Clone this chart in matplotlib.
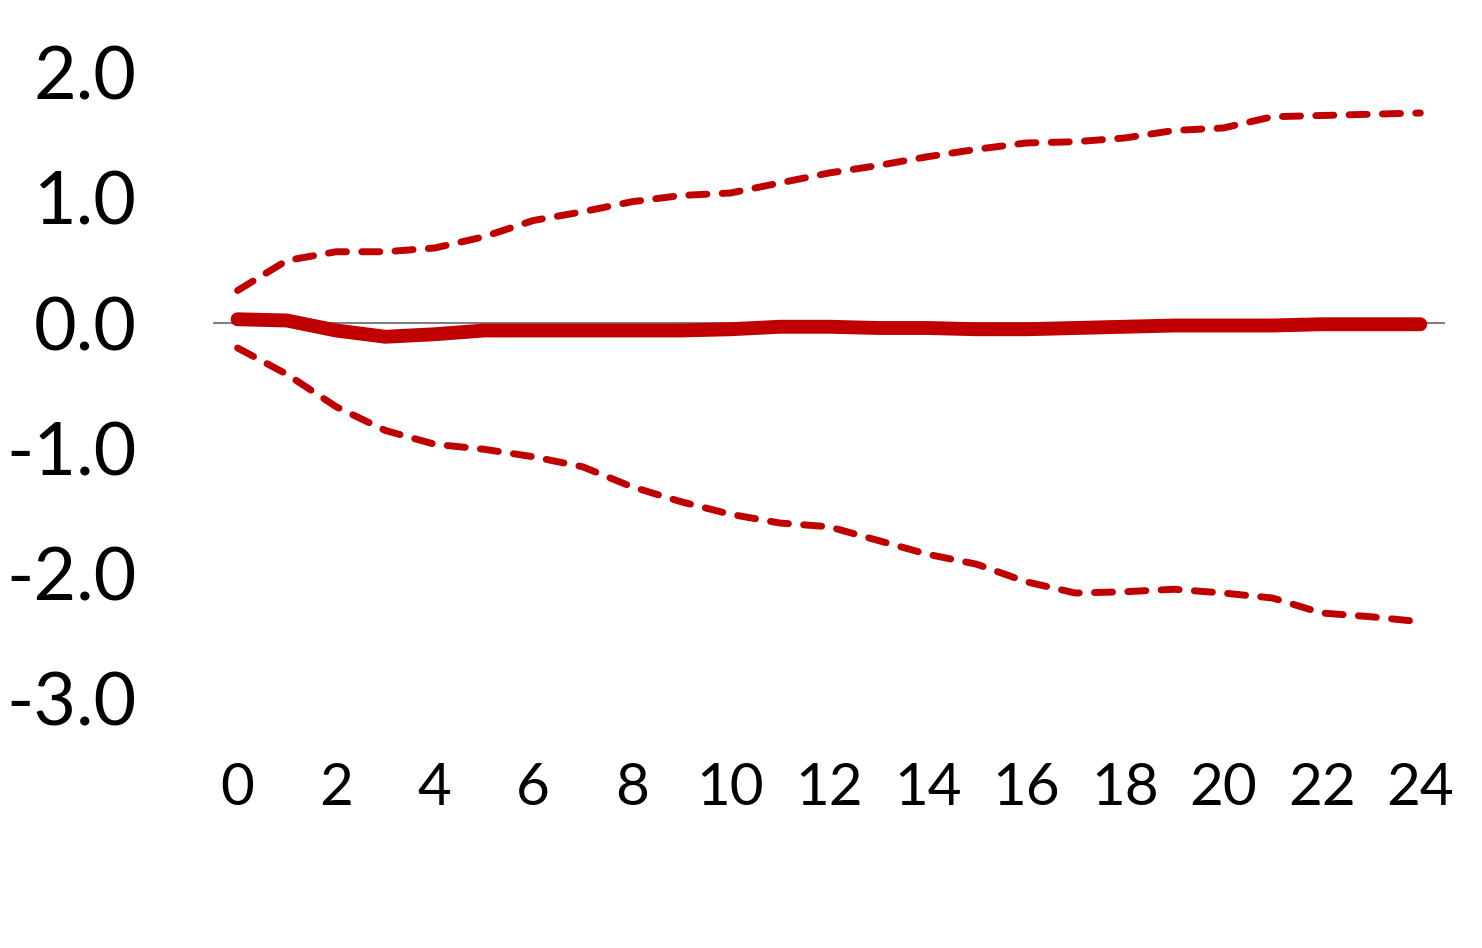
import matplotlib
matplotlib.use('Agg')
import matplotlib.pyplot as plt

plt.rcParams['font.family'] = ['Lato', 'DejaVu Sans']

# horizon (months) and impulse response with bands
horizon = list(range(25))
response = [0.03, 0.02, -0.06, -0.11, -0.09, -0.06, -0.06, -0.06, -0.06, -0.06,
            -0.05, -0.03, -0.03, -0.04, -0.04, -0.05, -0.05, -0.04, -0.03, -0.02,
            -0.02, -0.02, -0.01, -0.01, -0.01]
upper = [0.26, 0.50, 0.57, 0.57, 0.60, 0.69, 0.82, 0.89, 0.97, 1.02,
         1.04, 1.12, 1.20, 1.26, 1.33, 1.39, 1.44, 1.45, 1.48, 1.54,
         1.56, 1.65, 1.66, 1.67, 1.68]
lower = [-0.20, -0.41, -0.67, -0.86, -0.97, -1.01, -1.07, -1.15, -1.31, -1.43,
         -1.53, -1.60, -1.63, -1.74, -1.85, -1.93, -2.07, -2.16, -2.15, -2.13,
         -2.16, -2.20, -2.32, -2.35, -2.39]

red = '#C00000'

fig = plt.figure(figsize=(14.82, 9.48), dpi=100)
ax = fig.add_axes([0.1437, 0.2637, 0.8313, 0.6593])

ax.axhline(0, color='#808080', lw=1.5, zorder=1)
ax.plot(horizon, response, color=red, lw=10, solid_capstyle='round',
        solid_joinstyle='round', zorder=3)
for band in (upper, lower):
    ax.plot(horizon, band, color=red, lw=5, dashes=(2.6, 2.2),
            dash_capstyle='round', zorder=2)

ax.set_xlim(-0.5, 24.5)
ax.set_ylim(-3, 2)
ax.set_xticks(range(0, 25, 2))
ax.set_yticks([-3, -2, -1, 0, 1, 2])
ax.set_yticklabels([f'{v:.1f}' for v in [-3, -2, -1, 0, 1, 2]])

for s in ax.spines.values():
    s.set_visible(False)
ax.tick_params(axis='both', length=0)
ax.tick_params(axis='y', labelsize=53, pad=55)
ax.tick_params(axis='x', labelsize=42, pad=46)

fig.savefig('out.png', dpi=100)
